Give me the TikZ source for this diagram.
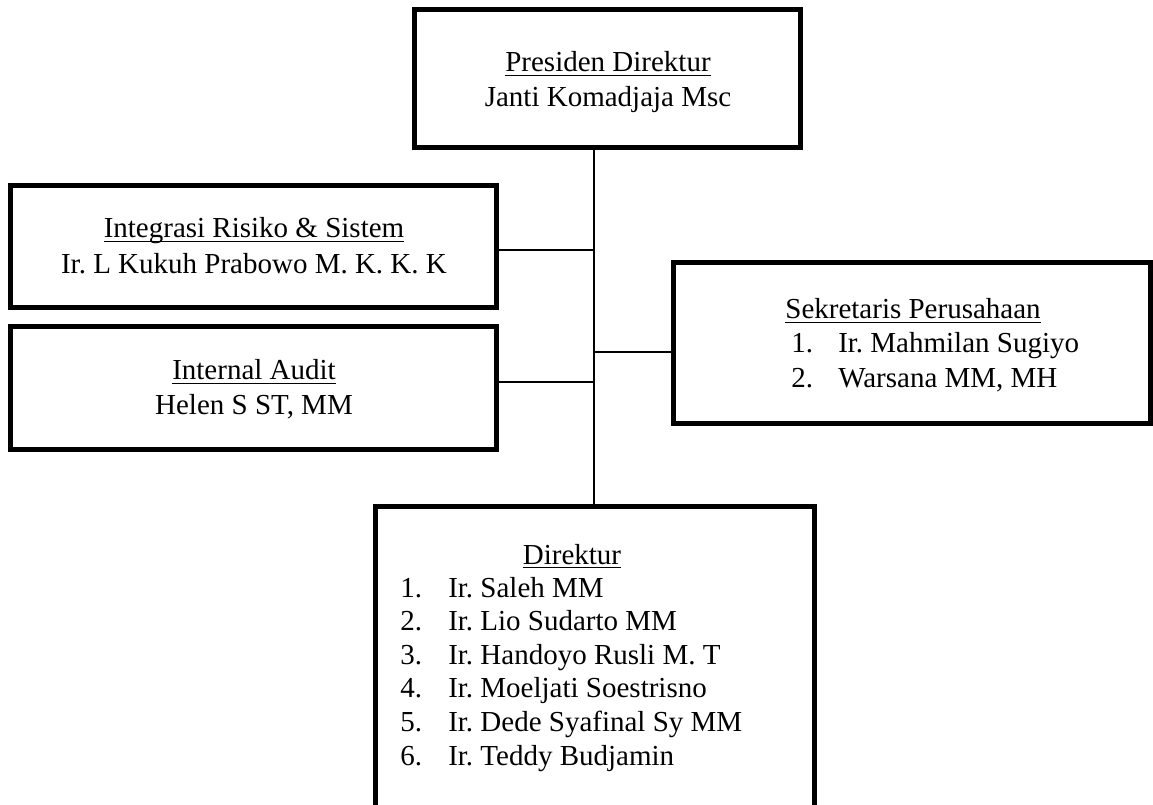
\documentclass[tikz,border=0pt]{standalone}
\usepackage{fontspec}
\setmainfont{Liberation Serif}
\frenchspacing
\newcommand\ulx[1]{\setbox0\hbox{#1}\rlap{\rule[-3.1pt]{\wd0}{1.05pt}}\box0}
\begin{document}
\begin{tikzpicture}[x=0.75pt,y=-0.75pt,
  box/.style={draw, line width=3.75pt, rectangle, inner sep=0pt, outer sep=0pt},
  conn/.style={line width=1.4pt},
  lbl/.style={font=\fontsize{21.75pt}{26pt}\selectfont\frenchspacing, inner sep=0pt, anchor=base},
  lbll/.style={lbl, anchor=base west}]
\useasboundingbox (0,0) rectangle (1153,805);
% boxes
\node[box, minimum width=289.5pt, minimum height=103.5pt] (pres) at (607,79) {};
\node[box, minimum width=364.5pt, minimum height=91.5pt] (integ) at (253.5,246.5) {};
\node[box, minimum width=364.5pt, minimum height=92.25pt] (audit) at (253.5,388) {};
\node[box, minimum width=358.1pt, minimum height=120.75pt] (sekr) at (911.75,343.5) {};
\node[box, minimum width=329.25pt, minimum height=225.75pt] (dir) at (594.5,656.5) {};
% connectors
\coordinate (v) at (594,0);
\coordinate (yi) at (0,250);
\coordinate (ya) at (0,382);
\coordinate (ys) at (0,352);
\draw[conn] (v |- pres.south) -- (v |- dir.north);
\draw[conn] (integ.east |- yi) -- (v |- yi);
\draw[conn] (audit.east |- ya) -- (v |- ya);
\draw[conn] (v |- ys) -- (sekr.west |- ys);
% texts
\node[lbl] (presT) at (608,72) {\ulx{Presiden Direktur}};
\node[lbl] (presN) at (608,107) {Janti Komadjaja Msc};
\node[lbl] (integT) at (254,238) {\ulx{Integrasi Risiko \& Sistem}};
\node[lbl] (integN) at (254,274) {Ir. L Kukuh Prabowo M. K. K. K};
\node[lbl] (auditT) at (254,380) {\ulx{Internal Audit}};
\node[lbl] (auditN) at (254,415) {Helen S ST, MM};
\node[lbl] (sekrT) at (913,319) {\ulx{Sekretaris Perusahaan}};
\node[lbll] (s1n) at (791,353) {1.};
\node[lbll] (s1) at (838,353) {Ir. Mahmilan Sugiyo};
\node[lbll] (s2n) at (791,388) {2.};
\node[lbll] (s2) at (838,388) {Warsana MM, MH};
\node[lbl] (dirT) at (572,564) {\ulx{Direktur}};
\node[lbll] (d1n) at (400,597) {1.};
\node[lbll] (d1) at (448,597) {Ir. Saleh MM};
\node[lbll] (d2n) at (400,630.6) {2.};
\node[lbll] (d2) at (448,630.6) {Ir. Lio Sudarto MM};
\node[lbll] (d3n) at (400,664.2) {3.};
\node[lbll] (d3) at (448,664.2) {Ir. Handoyo Rusli M. T};
\node[lbll] (d4n) at (400,697.8) {4.};
\node[lbll] (d4) at (448,697.8) {Ir. Moeljati Soestrisno};
\node[lbll] (d5n) at (400,731.4) {5.};
\node[lbll] (d5) at (448,731.4) {Ir. Dede Syafinal Sy MM};
\node[lbll] (d6n) at (400,765) {6.};
\node[lbll] (d6) at (448,765) {Ir. Teddy Budjamin};
\end{tikzpicture}
\end{document}
